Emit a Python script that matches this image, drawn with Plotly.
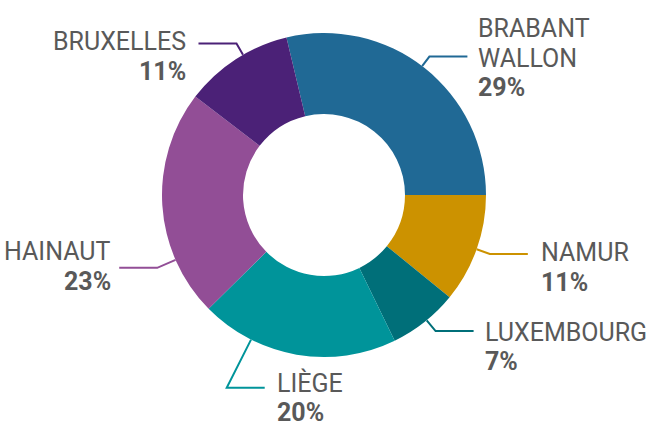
import math
import plotly.graph_objects as go

# ---- data ----
categories = ["Brabant Wallon", "Namur", "Luxembourg", "Liège", "Hainaut", "Bruxelles"]
label_lines = [["BRABANT", "WALLON"], ["NAMUR"], ["LUXEMBOURG"], ["LIÈGE"], ["HAINAUT"], ["BRUXELLES"]]
values = [29, 11, 7, 20, 23, 11]
colors = ["#206995", "#cc9200", "#006f79", "#00949a", "#924e96", "#4b2177"]

# ---- layout helpers (not data) ----
W, H = 651, 423
CX, CY, R = 324, 195, 162          # donut centre / outer radius in px
ROTATION = -13.4                     # first slice start, clockwise from 12 o'clock
anchor_shift = [-1, 0, -1, 17, -20, 3]      # deg shift of leader anchor from slice mid
radial_ext = [12, 14, 14, 54, 20, 13]       # radial leg length (px)
side = [1, 1, 1, 1, -1, -1]                 # horizontal leg direction
text_gap = [11, 13, 11, 12, 8, 12]
first_line_dy = [-28, -1, 1, -4.5, -16, -1.5]
HLEN, LSTEP = 38, 29.5
TEXT_COLOR = "#595959"
FONT = "Roboto"
FSIZE = 25

def px(x, y):
    return x / W, 1 - y / H

fig = go.Figure(go.Pie(
    labels=categories, values=values, sort=False, direction="clockwise",
    rotation=ROTATION, hole=0.5, textinfo="none", hoverinfo="label+percent",
    marker=dict(colors=colors, line=dict(color="white", width=0)),
    domain=dict(x=[(CX - R) / W, (CX + R) / W], y=[1 - (CY + R) / H, 1 - (CY - R) / H]),
    showlegend=False,
))

total = sum(values)
cum = ROTATION
shapes, annotations = [], []
for i, v in enumerate(values):
    span = v / total * 360
    a = math.radians(cum + span / 2 + anchor_shift[i])
    cum += span
    sx, sy = CX + R * math.sin(a), CY - R * math.cos(a)
    ex, ey = CX + (R + radial_ext[i]) * math.sin(a), CY - (R + radial_ext[i]) * math.cos(a)
    hx = ex + side[i] * HLEN
    p = [px(sx, sy), px(ex, ey), px(hx, ey)]
    shapes.append(dict(type="path", xref="paper", yref="paper",
                       path="M %f %f L %f %f L %f %f" % (p[0][0], p[0][1], p[1][0], p[1][1], p[2][0], p[2][1]),
                       line=dict(color=colors[i], width=2)))
    tx = hx + side[i] * text_gap[i]
    lines = label_lines[i] + ["<b>%d%%</b>" % v]
    for k, t in enumerate(lines):
        ty = ey + first_line_dy[i] + k * LSTEP
        x0, y0 = px(tx, ty)
        annotations.append(dict(x=x0, y=y0, xref="paper", yref="paper", text=t,
                                showarrow=False, xanchor="left" if side[i] > 0 else "right",
                                yanchor="middle", borderpad=0, borderwidth=0,
                                font=dict(family=FONT, size=FSIZE, color=TEXT_COLOR)))

fig.update_layout(width=W, height=H, margin=dict(l=0, r=0, t=0, b=0),
                  paper_bgcolor="white", plot_bgcolor="white",
                  shapes=shapes, annotations=annotations)
fig.write_html("out.html", config={"displayModeBar": False},
               post_script="document.body.style.margin='0';document.body.style.overflow='hidden';")
